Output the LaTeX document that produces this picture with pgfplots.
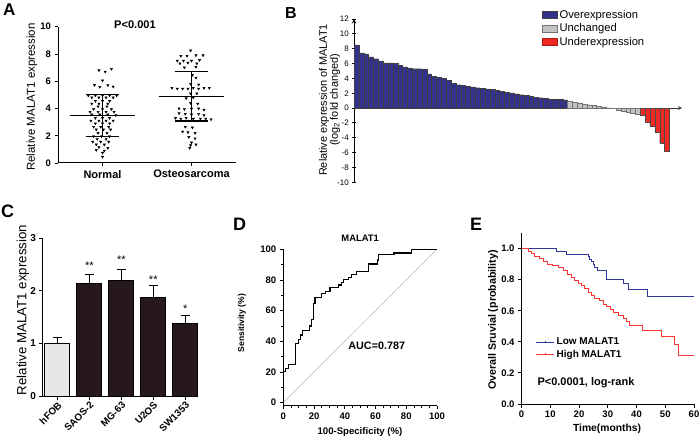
\documentclass[border=0pt]{standalone}
\usepackage{pgfplots}
\pgfplotsset{compat=1.18}
\usepackage{fontspec}
\setmainfont{Liberation Sans}
\definecolor{bblue}{RGB}{50,50,140}
\definecolor{bgray}{RGB}{195,195,195}
\definecolor{bred}{RGB}{238,40,35}
\definecolor{cdark}{RGB}{38,24,27}
\definecolor{clight}{RGB}{230,230,230}
\definecolor{eblue}{RGB}{50,55,155}
\definecolor{ered}{RGB}{250,55,55}
\newcommand{\fs}[1]{\fontsize{#1}{#1}\selectfont}
\pgfplotsset{
  gp/.style={
    scale only axis,
    axis lines=left,
    axis line style={-, line width=1pt, black},
    tick align=outside,
    major tick length=3.5pt,
    minor tick length=2.5pt,
    tick style={black, line width=0.9pt},
    /pgf/number format/assume math mode=true,
    clip=false,
  },
}
\begin{document}
\begin{tikzpicture}
% ---------------- Panel A ----------------
\begin{axis}[gp, at={(58pt,-163pt)}, anchor=south west, width=178pt, height=136.3pt,
  xmin=0.5, xmax=2.5, ymin=0, ymax=10, ytick={0,2,4,6,8,10}, xtick={1,2},
  xticklabels={Normal,Osteosarcoma},
  yticklabel style={font=\bfseries\fs{9.5}},
  xticklabel style={font=\bfseries\fs{11}},
  ylabel={Relative MALAT1 expression},
  ylabel style={at={(axis description cs:-0.146,0.484)}, anchor=center, font=\fs{11.5}},
]
\addplot[only marks, mark=triangle*, mark size=1.35pt, mark options={rotate=180, fill=black, draw=black}] coordinates {
(1.10,6.9) (0.96,6.8) (1.03,6.7)
(1.00,6.05)
(0.91,5.72) (1.06,5.70) (0.97,5.58) (1.12,5.6)
(0.84,4.95) (0.92,4.95) (1.0,4.95) (1.08,4.95) (1.16,4.95)
(0.88,4.8) (0.96,4.8) (1.04,4.8) (1.12,4.8)
(0.92,4.55) (1.0,4.55) (1.08,4.55)
(0.88,4.35) (0.96,4.35) (1.06,4.35)
(0.95,4.15) (1.05,4.15)
(0.90,3.95) (1.0,3.95) (1.10,3.95)
(0.86,3.75) (0.95,3.75) (1.04,3.75) (1.13,3.75)
(0.88,3.55) (0.97,3.55) (1.06,3.55) (1.15,3.5)
(0.92,3.3) (1.0,3.3) (1.08,3.3)
(0.87,3.1) (0.96,3.1) (1.04,3.1) (1.12,3.1)
(0.92,2.9) (1.0,2.9) (1.08,2.9)
(0.9,2.65) (0.98,2.65) (1.07,2.65)
(0.93,2.45) (1.01,2.45) (1.09,2.45)
(0.95,2.2) (1.05,2.2)
(0.9,1.95) (0.99,1.95) (1.08,1.95)
(0.94,1.75) (1.04,1.75)
(0.89,1.55) (0.98,1.55) (1.07,1.55)
(0.93,1.35) (1.02,1.35)
(0.96,1.15) (1.06,1.1)
(0.93,0.95) (1.02,0.9)
(1.0,0.75)
(1.0,0.45)
};
\addplot[only marks, mark=triangle*, mark size=1.35pt, mark options={rotate=180, fill=black, draw=black}] coordinates {
(1.99,8.25)
(1.88,7.85) (1.95,7.85) (2.05,7.9) (2.13,7.9)
(1.84,7.5) (1.91,7.5) (2.0,7.5) (2.09,7.55)
(1.87,7.3) (1.96,7.35) (2.06,7.3)
(1.92,7.0) (2.05,7.05)
(2.01,6.45) (2.05,6.25)
(1.99,5.8) (2.08,5.75)
(1.78,5.5) (1.84,5.45) (1.9,5.45) (1.96,5.45) (2.02,5.5) (2.08,5.45) (2.14,5.5) (2.2,5.5)
(1.99,5.1) (2.06,5.1)
(1.94,4.75) (2.02,4.8)
(1.99,4.4) (2.07,4.35)
(1.86,4.0) (1.92,3.95) (2.0,3.98) (2.08,4.0) (2.14,3.9)
(1.86,3.65) (1.93,3.6) (2.0,3.55) (2.08,3.6) (2.14,3.5)
(1.82,3.3) (1.88,3.25) (1.94,3.3) (2.02,3.25) (2.1,3.25) (2.16,3.25) (2.22,3.2)
(1.93,2.65) (2.01,2.6)
(1.9,2.3) (1.96,2.25) (2.04,2.2)
(1.97,1.9) (2.04,1.8)
(2.0,1.5)
(1.99,1.3) (2.05,1.35)
(1.98,1.1)
};
% mean and SD lines
\addplot[line width=1.3pt] coordinates {(0.63,3.47) (1.37,3.47)};
\addplot[line width=1.3pt] coordinates {(0.81,5.01) (1.19,5.01)};
\addplot[line width=1.3pt] coordinates {(0.81,1.96) (1.19,1.96)};
\addplot[line width=1.3pt] coordinates {(1,1.96) (1,5.01)};
\addplot[line width=1.3pt] coordinates {(1.63,4.89) (2.37,4.89)};
\addplot[line width=1.3pt] coordinates {(1.81,6.72) (2.19,6.72)};
\addplot[line width=1.3pt] coordinates {(1.81,3.08) (2.19,3.08)};
\addplot[line width=1.3pt] coordinates {(2,3.08) (2,6.72)};
\end{axis}
\node[font=\bfseries\fs{11.1}] at (135pt,-25pt) {P<0.001};
% ---------------- Panel B ----------------
\begin{axis}[gp, at={(354pt,-182.3pt)}, anchor=south west, width=328pt, height=163.3pt,
  xmin=0.5, xmax=68.1, ymin=-10, ymax=12, ytick={-10,-8,-6,-4,-2,0,2,4,6,8,10,12},
  axis x line=middle, axis y line=left, xtick=\empty,
  x axis line style={line width=0.8pt, black!80},
  yticklabel style={font=\fs{8}},
  ylabel={Relative expression of MALAT1\\(log\textsubscript{2} fold changed)},
  ylabel style={at={(axis description cs:-0.0747,0.504)}, anchor=center, align=center, font=\fs{10.9}},
  legend style={at={(rel axis cs:0.570,1.075)}, anchor=north west, draw=none, fill=none,
    font=\fs{11.2}, row sep=0pt, inner sep=1pt, cells={anchor=west}},
]
\addplot[ybar, bar width=1, bar shift=0pt, fill=bblue, draw=black!75, line width=0.3pt,
  legend image code/.code={\draw[fill=bblue, draw=black!75, line width=0.4pt] (0pt,-3.5pt) rectangle (15pt,3.5pt);}]
 coordinates {
(1,8.5) (2,7.45) (3,7.3) (4,6.9) (5,6.65) (6,6.35) (7,6.1) (8,6.1) (9,6.0) (10,5.8)
(11,5.55) (12,5.4) (13,5.3) (14,5.3) (15,5.25) (16,4.6) (17,4.3) (18,4.1) (19,4.0) (20,3.7)
(21,3.3) (22,3.15) (23,3.1) (24,2.95) (25,2.85) (26,2.75) (27,2.7) (28,2.6) (29,2.5) (30,2.35)
(31,2.25) (32,2.15) (33,2.05) (34,1.9) (35,1.8) (36,1.68) (37,1.58) (38,1.48) (39,1.4) (40,1.32)
(41,1.25) (42,1.2) (43,1.15) (44,1.1)
};
\addlegendentry{Overexpression}
\addplot[ybar, bar width=1, bar shift=0pt, fill=bgray, draw=black!55, line width=0.3pt,
  legend image code/.code={\draw[fill=bgray, draw=black!55, line width=0.4pt] (0pt,-3.5pt) rectangle (15pt,3.5pt);}]
 coordinates {
(45,0.95) (46,0.85) (47,0.7) (48,0.55) (49,0.45) (50,0.35) (51,0.25) (52,0.15) (53,0.05) (54,-0.05)
(55,-0.25) (56,-0.4) (57,-0.5) (58,-0.7) (59,-0.85)
};
\addlegendentry{Unchanged}
\addplot[ybar, bar width=1, bar shift=0pt, fill=bred, draw=black!70, line width=0.3pt,
  legend image code/.code={\draw[fill=bred, draw=bred!70!black, line width=0.4pt] (0pt,-3.5pt) rectangle (15pt,3.5pt);}]
 coordinates {
(60,-1.0) (61,-1.9) (62,-2.4) (63,-3.2) (64,-4.7) (65,-5.8)
};
\addlegendentry{Underexpression}
\end{axis}
% ---------------- Panel C ----------------
\begin{axis}[gp, at={(43pt,-396pt)}, anchor=south west, width=155pt, height=157.7pt,
  xmin=0.55, xmax=5.4, ymin=0, ymax=3, ytick={0,1,2,3}, xtick={1,2,3,4,5},
  xticklabels={hFOB,SAOS-2,MG-63,U2OS,SW1353},
  xticklabel style={rotate=45, anchor=north east, font=\bfseries\fs{9.8}, inner sep=1pt},
  yticklabel style={font=\bfseries\fs{10}},
  ylabel={Relative MALAT1 expression},
  ylabel style={at={(axis description cs:-0.129,0.545)}, anchor=center, font=\fs{13.3}},
]
\addplot[ybar, bar width=0.78, bar shift=0pt, fill=clight, draw=black, line width=1pt,
  error bars/.cd, y dir=plus, y explicit, error bar style={line width=1pt},
  error mark options={rotate=90, mark size=4.5pt, line width=1pt}]
  coordinates {(1,1.0) +- (0,0.12)};
\addplot[ybar, bar width=0.78, bar shift=0pt, fill=cdark, draw=black, line width=1pt,
  error bars/.cd, y dir=plus, y explicit, error bar style={line width=1pt},
  error mark options={rotate=90, mark size=4.5pt, line width=1pt}]
  coordinates {(2,2.14) +- (0,0.18) (3,2.2) +- (0,0.21) (4,1.87) +- (0,0.23) (5,1.37) +- (0,0.17)};
\node[font=\fs{11}] at (axis cs:2,2.48) {**};
\node[font=\fs{11}] at (axis cs:3,2.60) {**};
\node[font=\fs{11}] at (axis cs:4,2.22) {**};
\node[font=\fs{11}] at (axis cs:5,1.66) {*};
\end{axis}
% ---------------- Panel D ----------------
\begin{axis}[gp, at={(283.3pt,-405.7pt)}, anchor=south west, width=153.7pt, height=156.4pt,
  xmin=0, xmax=100, ymin=-2, ymax=100, xtick={0,20,40,60,80,100}, ytick={0,20,40,60,80,100},
  minor xtick={5,10,15,25,30,35,45,50,55,65,70,75,85,90,95}, minor ytick={10,30,50,70,90},
  ticklabel style={font=\bfseries\fs{9.5}},
  xlabel={100-Specificity (\%)},
  xlabel style={at={(axis description cs:0.499,-0.168)}, anchor=center, font=\bfseries\fs{9.6}},
  ylabel={Sensitivity (\%)},
  ylabel style={at={(axis description cs:-0.269,0.529)}, anchor=center, font=\bfseries\fs{8.5}},
]
\addplot[black!30, line width=0.5pt] coordinates {(0,0) (100,100)};
\addplot[black, line width=1.1pt] coordinates {
(0,0) (0,20.2) (1.5,20.2) (1.5,22) (3.5,22) (3.5,25) (7.9,25) (7.9,38.7) (10,38.7) (10,40.9)
(11.4,40.9) (11.4,44.1) (12.3,44.1) (12.3,47) (17.3,47) (17.3,50) (18.5,50) (18.5,54) (19.5,54)
(19.5,64.8) (20.6,64.8) (20.6,68.7) (25,68.7) (25,71.3) (27.6,71.3) (27.6,72.4) (30.4,72.4)
(30.4,75.2) (35.9,75.2) (35.9,76.7) (37.6,76.7) (37.6,78.3) (39.2,78.3) (39.2,80.4) (42.5,80.4)
(42.5,81.7) (44.6,81.7) (44.6,83.3) (47.9,83.3) (47.9,85.4) (55.6,85.4) (55.6,90.4) (61,90.4)
(61,93) (62.1,93) (62.1,96.5) (72,96.5) (72,97.6) (83.6,97.6) (83.6,100) (100,100)
};
\node[font=\bfseries\fs{10.8}] at (axis cs:60.8,36.9) {AUC=0.787};
\node[font=\bfseries\fs{9.4}] at (axis cs:50,107) {MALAT1};
\end{axis}
% ---------------- Panel E ----------------
\begin{axis}[gp, at={(521.5pt,-404pt)}, anchor=south west, width=172.5pt, height=171pt,
  xmin=0, xmax=60, ymin=0, ymax=1.1, xtick={0,10,20,30,40,50,60}, ytick={0,0.2,0.4,0.6,0.8,1},
  yticklabel style={/pgf/number format/.cd, fixed, fixed zerofill, precision=1},
  ticklabel style={font=\bfseries\fs{9.5}},
  xlabel={Time(months)},
  xlabel style={at={(axis description cs:0.496,-0.146)}, anchor=center, font=\bfseries\fs{10.3}},
  ylabel={Overall Sruvial (probability)},
  ylabel style={at={(axis description cs:-0.165,0.491)}, anchor=center, font=\bfseries\fs{10.7}},
  legend style={at={(rel axis cs:0.075,0.405)}, anchor=north west, draw=none, fill=none,
    font=\bfseries\fs{10}, row sep=0pt, inner sep=1pt, cells={anchor=west}},
]
\addplot[const plot, eblue, line width=1pt,
  legend image code/.code={\draw[eblue, line width=1pt] (0pt,0pt) -- (18pt,0pt); \draw[eblue, line width=0.6pt] (9pt,0pt) -- (9pt,1.5pt);}]
 coordinates {
(0,1) (12,0.98) (15.7,0.963) (23.2,0.948) (23.8,0.932) (24.4,0.915) (25,0.9) (25.5,0.88)
(26.3,0.857) (29.6,0.803) (35.6,0.775) (37.1,0.738) (43.9,0.692) (60,0.692)
};
\addlegendentry{Low MALAT1}
\addplot[const plot, ered, line width=1pt,
  legend image code/.code={\draw[ered, line width=1pt] (0pt,0pt) -- (18pt,0pt); \draw[ered, line width=0.6pt] (9pt,0pt) -- (9pt,1.5pt);}]
 coordinates {
(0,1) (2.3,0.98) (3.5,0.967) (4.6,0.952) (6.4,0.935) (7.5,0.915) (8.9,0.9) (10.8,0.889)
(12.8,0.876) (14.5,0.857) (15.9,0.836) (17.4,0.814) (18.6,0.793) (19.7,0.777) (20.9,0.76)
(22,0.74) (23.2,0.72) (24.4,0.70) (25.5,0.68) (27.3,0.663) (28.4,0.643) (29.6,0.627)
(30.8,0.609) (32.1,0.588) (33.7,0.57) (35.4,0.549) (36.6,0.528) (37.7,0.505) (42.2,0.472)
(48.7,0.432) (53.1,0.38) (54.7,0.315) (60,0.315)
};
\addlegendentry{High MALAT1}
\node[anchor=west, font=\bfseries\fs{11}] at (axis cs:4.35,0.135) {P<0.0001, log-rank};
\end{axis}
% ---------------- Panel letters ----------------
\node[anchor=base west, font=\bfseries\fs{17}, inner sep=0pt] at (3pt,-15.5pt) {A};
\node[anchor=base west, font=\bfseries\fs{16}, inner sep=0pt] at (285pt,-18.5pt) {B};
\node[anchor=base west, font=\bfseries\fs{18}, inner sep=0pt] at (1pt,-218pt) {C};
\node[anchor=base west, font=\bfseries\fs{18}, inner sep=0pt] at (233pt,-230pt) {D};
\node[anchor=base west, font=\bfseries\fs{18}, inner sep=0pt] at (470pt,-230pt) {E};
\pgfresetboundingbox
\path[use as bounding box] (0pt,0pt) rectangle (700pt,-446pt);
\end{tikzpicture}
\end{document}
